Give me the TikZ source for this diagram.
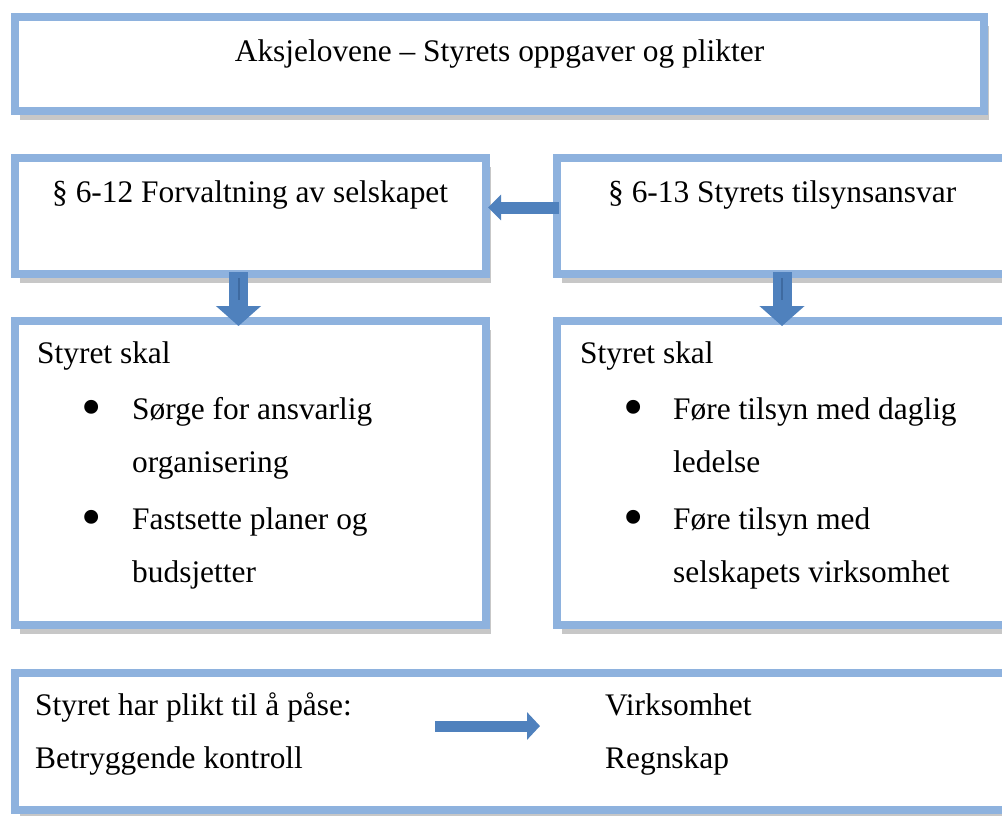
\documentclass[tikz,border=0pt]{standalone}
\usepackage{fontspec}
\setmainfont{Liberation Serif}
\usetikzlibrary{arrows.meta,shadows}
\definecolor{bord}{RGB}{142,178,222}
\definecolor{arr}{RGB}{79,129,189}
\definecolor{arrdark}{RGB}{62,106,160}
\tikzset{
  box/.style={draw=bord, line width=8pt, fill=white, inner sep=0pt, outer sep=4pt,
    anchor=north west,
    drop shadow={shadow xshift=5pt, shadow yshift=-9pt, opacity=0.22, fill=black}},
  txt/.style={font=\fontsize{31.4}{37}\selectfont, anchor=base west, inner sep=0pt, text=black},
  bul/.style={font=\fontsize{58}{60}\selectfont, anchor=base west, inner sep=0pt, text=black},
  harrow/.style={draw=arr, line width=12pt, -{Triangle[width=25pt,length=13pt]}},
  varrow/.style={draw=arr, line width=19pt, -{Triangle[width=44pt,length=20pt]},
    postaction={draw=arrdark, line width=2pt, -, shorten >=26pt, shorten <=6pt}},
  barrow/.style={draw=arr, line width=11pt, -{Triangle[width=27pt,length=13pt]}}
}
\begin{document}
\begin{tikzpicture}[x=1pt,y=-1pt]
\clip (0,0) rectangle (1002,815);
\fill[white] (0,0) rectangle (1002,815);
% boxes
\node[box, minimum width=969pt, minimum height=94pt] (top) at (11,13) {};
\node[box, minimum width=471pt, minimum height=116pt] (l2) at (11,154) {};
\node[box, minimum width=454pt, minimum height=116pt] (r2) at (553,154) {};
\node[box, minimum width=471pt, minimum height=304pt] (l3) at (11,317) {};
\node[box, minimum width=454pt, minimum height=304pt] (r3) at (553,317) {};
\node[box, minimum width=996pt, minimum height=137pt] (bot) at (11,669) {};
% texts
\node[txt, anchor=base] (ttl) at (499.5,61) {Aksjelovene – Styrets oppgaver og plikter};
\node[txt] (l2t) at (52,202) {§ 6-12 Forvaltning av selskapet};
\node[txt] (r2t) at (608,202) {§ 6-13 Styrets tilsynsansvar};
\node[txt] (l3a) at (37,363) {Styret skal};
\node[bul] (l3b1) at (81,426) {•};
\node[txt] (l3b) at (132,419) {Sørge for ansvarlig};
\node[txt] (l3c) at (132,472) {organisering};
\node[bul] (l3d1) at (81,536) {•};
\node[txt] (l3d) at (132,529) {Fastsette planer og};
\node[txt] (l3e) at (132,582) {budsjetter};
\node[txt] (r3a) at (580,363) {Styret skal};
\node[bul] (r3b1) at (623,426) {•};
\node[txt] (r3b) at (673,419) {Føre tilsyn med daglig};
\node[txt] (r3c) at (673,472) {ledelse};
\node[bul] (r3d1) at (623,536) {•};
\node[txt] (r3d) at (673,529) {Føre tilsyn med};
\node[txt] (r3e) at (673,582) {selskapets virksomhet};
\node[txt] (ba) at (35,715) {Styret har plikt til å påse:};
\node[txt] (bb) at (35,768) {Betryggende kontroll};
\node[txt] (bc) at (605,715) {Virksomhet};
\node[txt] (bd) at (605,768) {Regnskap};
% arrows
\draw[harrow] ([xshift=6pt]r2.west |- 0,207.5) -- ([xshift=-2pt]l2.east |- 0,207.5);
\draw[varrow] ([xshift=-12pt,yshift=6pt]l2.south) -- ([xshift=-12pt,yshift=-9pt]l3.north);
\draw[varrow] ([xshift=-2pt,yshift=6pt]r2.south) -- ([xshift=-2pt,yshift=-9pt]r3.north);
\coordinate (bs) at (435,726);
\coordinate (be) at (540,726);
\draw[barrow] (bs) -- (be);
\end{tikzpicture}
\end{document}
